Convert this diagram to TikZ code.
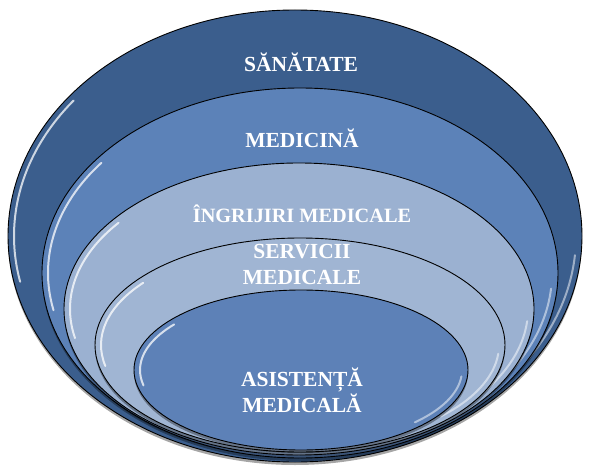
\documentclass[tikz,border=0pt]{standalone}
\usepackage{fontspec}
\setmainfont{Liberation Serif}
\definecolor{darkring}{RGB}{59,94,141}
\definecolor{midring}{RGB}{92,130,184}
\definecolor{lightring}{RGB}{155,177,209}
\definecolor{paleiring}{RGB}{160,181,211}
\definecolor{corering}{RGB}{93,129,183}

\begin{document}
\begin{tikzpicture}[x=1pt, y=-1pt, ring/.style={draw=black, line width=0.9pt}, gloss/.style={white, line width=2pt, opacity=0.75, line cap=round}, every node/.style={text=white, font=\bfseries\fontsize{21.5}{26}\selectfont, align=center, anchor=base, inner sep=0pt}]
  \useasboundingbox (0,0) rectangle (589,468);
  \foreach \cx/\cy/\rx/\ry/\col in {295/236/287/226/darkring, 300/273/258/185/midring, 299/309/235/146/lightring, 300/345/205/107/paleiring, 301/370/167/80/corering}{
    \fill[black, opacity=0.35] (\cx,\cy+3) ellipse ({\rx} and {\ry});
    \draw[ring, fill=\col] (\cx,\cy) ellipse ({\rx} and {\ry});
    \draw[gloss] (\cx,\cy) ++(218:{\rx-6} and {\ry-6}) arc[start angle=218, end angle=168, x radius=\rx-6, y radius=\ry-6];
    \draw[gloss, opacity=0.5] (\cx,\cy) ++(5:{\rx-6} and {\ry-6}) arc[start angle=5, end angle=45, x radius=\rx-6, y radius=\ry-6];
  }
  \node (sanatate) at (301,72) {SĂNĂTATE};
  \node (medicina) at (302,147) {MEDICINĂ};
  \node[font=\bfseries\fontsize{20.3}{26}\selectfont] (ingrijiri) at (302,222) {ÎNGRIJIRI MEDICALE};
  \node (servicii) at (302,284) {SERVICII\\MEDICALE};
  \node (asistenta) at (302,412) {ASISTENȚĂ\\MEDICALĂ};
\end{tikzpicture}
\end{document}
